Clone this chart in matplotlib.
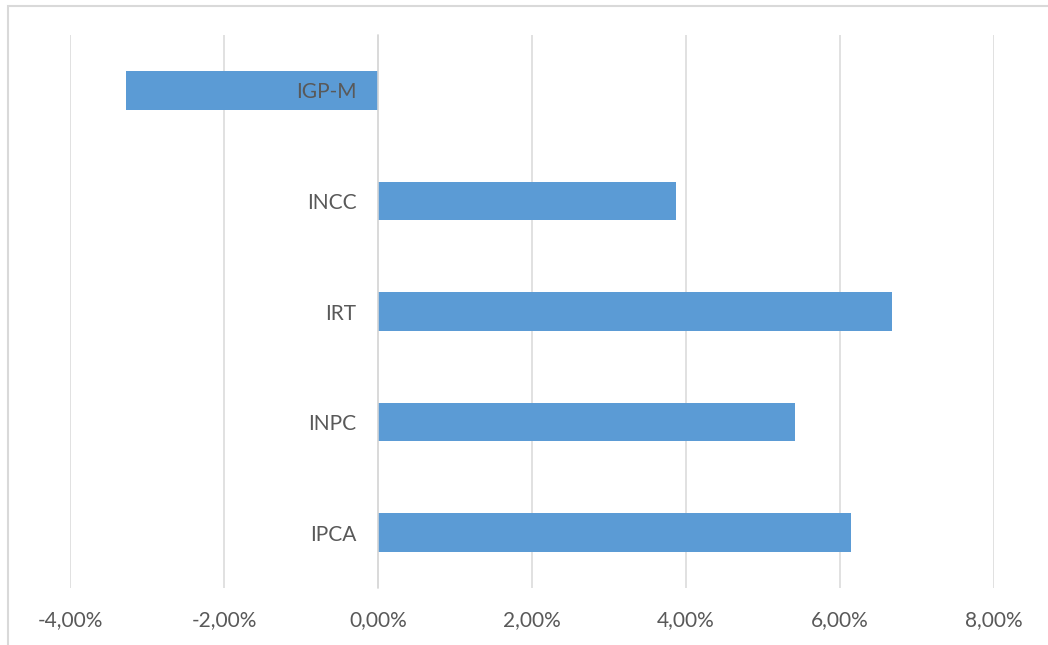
import matplotlib
matplotlib.use("Agg")
import matplotlib.pyplot as plt
from matplotlib.patches import Rectangle
from matplotlib.ticker import FuncFormatter

# values, in percent (bottom to top as in the source)
categories = ["IPCA", "INPC", "IRT", "INCC", "IGP-M"]
values = [6.15, 5.42, 6.68, 3.87, -3.27]
x_ticks = [-4, -2, 0, 2, 4, 6, 8]

BAR_COLOR = "#5B9BD5"
GRID_COLOR = "#D9D9D9"
TEXT_COLOR = "#595959"

plt.rcParams["font.family"] = ["Lato", "DejaVu Sans"]

W, H = 1048, 645
fig = plt.figure(figsize=(W / 100, H / 100), dpi=100)
ax = fig.add_axes([70.3 / W, 1 - 588 / H, (993.7 - 70.3) / W, (588 - 35) / H])

# chart border (runs off the right and bottom of the image)
fig.add_artist(Rectangle((7.5 / W, -0.1), 1.2, 1 - 5.5 / H + 0.1,
                         transform=fig.transFigure, fill=False,
                         edgecolor=GRID_COLOR, linewidth=1.5))

for t in x_ticks:
    ax.axvline(t, color=GRID_COLOR, linewidth=1.1, zorder=0.5)

ypos = range(len(categories))
ax.barh(ypos, values, height=0.35, color=BAR_COLOR, zorder=1)

ax.set_xlim(x_ticks[0], x_ticks[-1])
ax.set_ylim(-0.5, len(categories) - 0.5)
ax.set_xticks(x_ticks)
ax.xaxis.set_major_formatter(FuncFormatter(lambda v, _: f"{v:.2f}%".replace(".", ",")))
ax.set_yticks(list(ypos))
ax.set_yticklabels(categories)

for s in ["top", "right", "bottom"]:
    ax.spines[s].set_visible(False)
ax.spines["left"].set_position(("data", 0))
ax.spines["left"].set_color(GRID_COLOR)
ax.spines["left"].set_linewidth(1.1)

ax.tick_params(axis="both", length=0, labelsize=15, colors=TEXT_COLOR)
ax.tick_params(axis="x", pad=16)
ax.tick_params(axis="y", pad=15.5)

fig.savefig("out.png", dpi=100)
